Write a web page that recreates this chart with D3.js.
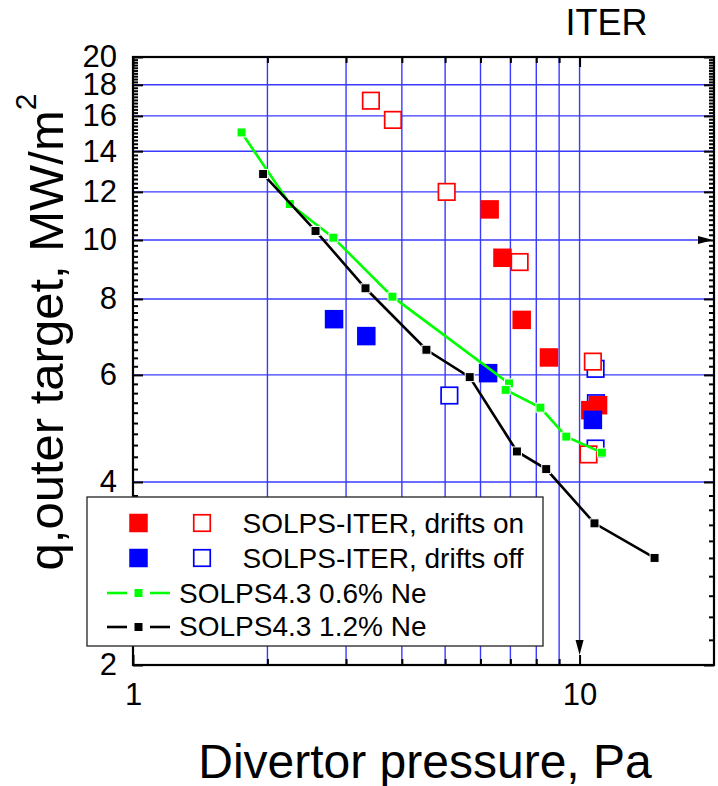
<!DOCTYPE html>
<html>
<head>
<meta charset="utf-8">
<script src="https://cdn.jsdelivr.net/npm/d3@7"></script>
<style>
  body { margin: 0; background: #fff; }
  svg { display: block; }
  text { font-family: "Liberation Sans", Arial, Helvetica, sans-serif; fill: #000; }
</style>
</head>
<body>
<svg id="chart" width="718" height="786"></svg>
<script>
// Divertor pressure (Pa) vs peak heat load at the outer target (MW/m^2)

// SOLPS-ITER, drifts on
const driftsOnFilledP = [6.29, 6.72, 7.42, 8.54, 11.0, 10.57];
const driftsOnFilledQ = [11.23, 9.35, 7.39, 6.41, 5.35, 5.25];
const driftsOnOpenP = [3.41, 3.82, 5.04, 7.34, 10.71, 10.47];
const driftsOnOpenQ = [16.95, 15.76, 12.0, 9.2, 6.31, 4.44];

// SOLPS-ITER, drifts off
const driftsOffFilledP = [2.82, 3.33, 6.24, 10.71];
const driftsOffFilledQ = [7.41, 6.95, 6.04, 5.06];
const driftsOffOpenP = [5.11, 10.86, 10.88, 10.86];
const driftsOffOpenQ = [5.55, 6.14, 5.39, 4.54];

// SOLPS4.3 scans
const ne06P = [1.75, 2.245, 2.81, 3.81, 6.95, 6.83, 8.17, 9.34, 11.22];
const ne06Q = [15.03, 11.46, 10.09, 8.07, 5.81, 5.67, 5.30, 4.75, 4.47];
const ne12P = [1.956, 2.563, 3.316, 4.54, 5.675, 7.24, 8.42, 10.80, 14.72];
const ne12Q = [12.84, 10.35, 8.33, 6.60, 5.95, 4.49, 4.20, 3.42, 3.00];

// Axis ticks and text
const xDomain = [1, 20];
const yDomain = [2, 20];
const xMajorTicks = [1, 10];
const xMinorTicks = [2, 3, 4, 5, 6, 7, 8, 9];
const yMajorTicks = [2, 4, 6, 8, 10, 12, 14, 16, 18, 20];
const yGridTicks = [4, 6, 8, 12, 14, 16, 18];
const iterPressure = 10;
const iterHeatLoad = 10;
const legendLabels = ["SOLPS-ITER, drifts on", "SOLPS-ITER, drifts off", "SOLPS4.3 0.6% Ne", "SOLPS4.3 1.2% Ne"];

const zip = (a, b) => a.map((v, i) => [v, b[i]]);

const RED = "#ff0000", BLUE = "#0000ff", GREEN = "#00ff00", GRID = "#3a3aff";

const svg = d3.select("#chart");
const pL = 133, pR = 714, pT = 57, pB = 665;

const x = d3.scaleLog().domain(xDomain).range([pL, pR]);
const y = d3.scaleLog().domain(yDomain).range([pB, pT]);

// ---- grid ----
const grid = svg.append("g");
grid.selectAll("line.h").data(yGridTicks).join("line")
  .attr("x1", pL).attr("x2", pR)
  .attr("y1", d => y(d)).attr("y2", d => y(d))
  .attr("stroke", GRID).attr("stroke-width", 1.4);
grid.selectAll("line.v").data(xMinorTicks).join("line")
  .attr("x1", d => x(d)).attr("x2", d => x(d))
  .attr("y1", pT).attr("y2", pB)
  .attr("stroke", GRID).attr("stroke-width", 1.4);

// ITER reference lines with arrowheads
const xi = x(iterPressure), yi = y(iterHeatLoad);
grid.append("line").attr("x1", xi).attr("x2", xi).attr("y1", pT).attr("y2", pB - 24)
  .attr("stroke", GRID).attr("stroke-width", 1.4);
grid.append("path")
  .attr("d", `M${xi - 4},${pB - 25} L${xi + 4},${pB - 25} L${xi},${pB - 10} Z`)
  .attr("fill", "#000");
grid.append("line").attr("x1", pL).attr("x2", pR - 15).attr("y1", yi).attr("y2", yi)
  .attr("stroke", GRID).attr("stroke-width", 1.4);
grid.append("path")
  .attr("d", `M${pR - 16},${yi - 4} L${pR - 16},${yi + 4} L${pR - 1},${yi} Z`)
  .attr("fill", "#000");

// ---- scatter squares ----
const marks = svg.append("g");
function squares(data, size, fill, stroke, sw) {
  marks.append("g").selectAll("rect").data(data).join("rect")
    .attr("x", d => x(d[0]) - size / 2)
    .attr("y", d => y(d[1]) - size / 2)
    .attr("width", size).attr("height", size)
    .attr("fill", fill).attr("stroke", stroke).attr("stroke-width", sw);
}
squares(zip(driftsOffOpenP, driftsOffOpenQ), 16.5, "#fff", BLUE, 1.7);
squares(zip(driftsOnOpenP, driftsOnOpenQ), 16.5, "#fff", RED, 1.7);
squares(zip(driftsOnFilledP, driftsOnFilledQ), 18.5, RED, "none", 0);
squares(zip(driftsOffFilledP, driftsOffFilledQ), 18.5, BLUE, "none", 0);

// ---- SOLPS4.3 lines ----
const line = d3.line().x(d => x(d[0])).y(d => y(d[1]));
function series(data, color) {
  const g = svg.append("g");
  g.append("path").datum(data).attr("d", line)
    .attr("fill", "none").attr("stroke", color).attr("stroke-width", 2.6);
  g.selectAll("rect").data(data).join("rect")
    .attr("x", d => x(d[0]) - 4.5).attr("y", d => y(d[1]) - 4.5)
    .attr("width", 9).attr("height", 9)
    .attr("fill", color).attr("stroke", "#fff").attr("stroke-width", 1);
}
series(zip(ne06P, ne06Q), GREEN);
series(zip(ne12P, ne12Q), "#000");

// ---- frame and axes ----
const fontTick = 31;
svg.append("rect").attr("x", pL).attr("y", pT)
  .attr("width", pR - pL).attr("height", pB - pT)
  .attr("fill", "none").attr("stroke", "#000").attr("stroke-width", 2.2);

const yMinorTicks = d3.range(2, 20.001, 0.2).map(v => +v.toFixed(1))
  .filter(v => Math.abs(v / 2 - Math.round(v / 2)) > 1e-6);

function styleAxis(g) {
  g.select(".domain").remove();
  g.selectAll(".tick line").attr("stroke", "#000").attr("stroke-width", 2);
  g.selectAll("text").attr("font-size", fontTick).attr("fill", "#000")
    .attr("font-family", '"Liberation Sans", Arial, sans-serif');
}

svg.append("g").attr("transform", `translate(${pL},0)`)
  .call(d3.axisLeft(y).tickValues(yMajorTicks).tickFormat(d3.format("d")).tickSize(-10).tickPadding(16))
  .call(styleAxis);
svg.append("g").attr("transform", `translate(${pL},0)`)
  .call(d3.axisLeft(y).tickValues(yMinorTicks).tickFormat("").tickSize(-5))
  .call(styleAxis);
svg.append("g").attr("transform", `translate(${pR},0)`)
  .call(d3.axisRight(y).tickValues(yMajorTicks).tickFormat("").tickSize(-10))
  .call(styleAxis);
svg.append("g").attr("transform", `translate(${pR},0)`)
  .call(d3.axisRight(y).tickValues(yMinorTicks).tickFormat("").tickSize(-5))
  .call(styleAxis);

svg.append("g").attr("transform", `translate(0,${pB})`)
  .call(d3.axisBottom(x).tickValues(xMajorTicks).tickFormat(d3.format("d")).tickSize(-10).tickPadding(18))
  .call(styleAxis);
svg.append("g").attr("transform", `translate(0,${pB})`)
  .call(d3.axisBottom(x).tickValues(xMinorTicks).tickFormat("").tickSize(-6))
  .call(styleAxis);
svg.append("g").attr("transform", `translate(0,${pT})`)
  .call(d3.axisTop(x).tickValues(xMajorTicks).tickFormat("").tickSize(-10))
  .call(styleAxis);
svg.append("g").attr("transform", `translate(0,${pT})`)
  .call(d3.axisTop(x).tickValues(xMinorTicks).tickFormat("").tickSize(-6))
  .call(styleAxis);

// ---- legend ----
const lg = svg.append("g");
lg.append("rect").attr("x", 87).attr("y", 497).attr("width", 456).attr("height", 149)
  .attr("fill", "#fff").attr("stroke", "#222").attr("stroke-width", 1.3);
const rowY = [523, 558, 593, 627];
const legendSquares = [
  { row: 0, cx: 138.5, fill: RED, stroke: "none" },
  { row: 0, cx: 202, fill: "#fff", stroke: RED },
  { row: 1, cx: 138.5, fill: BLUE, stroke: "none" },
  { row: 1, cx: 202, fill: "#fff", stroke: BLUE }
];
lg.selectAll("rect.sq").data(legendSquares).join("rect")
  .attr("x", d => d.cx - (d.stroke === "none" ? 9.25 : 8.25))
  .attr("y", d => rowY[d.row] - (d.stroke === "none" ? 9.25 : 8.25))
  .attr("width", d => d.stroke === "none" ? 18.5 : 16.5)
  .attr("height", d => d.stroke === "none" ? 18.5 : 16.5)
  .attr("fill", d => d.fill).attr("stroke", d => d.stroke).attr("stroke-width", 1.7);
[[2, GREEN], [3, "#000"]].forEach(([r, c]) => {
  const yy = rowY[r];
  lg.append("line").attr("x1", 107).attr("x2", 127).attr("y1", yy).attr("y2", yy)
    .attr("stroke", c).attr("stroke-width", 2.6);
  lg.append("line").attr("x1", 150).attr("x2", 170).attr("y1", yy).attr("y2", yy)
    .attr("stroke", c).attr("stroke-width", 2.6);
  lg.append("rect").attr("x", 134.5).attr("y", yy - 4).attr("width", 8).attr("height", 8)
    .attr("fill", c);
});
const textX = [242.5, 242.5, 179, 179];
const textBase = [533, 568, 603, 636];
lg.selectAll("text").data(legendLabels).join("text")
  .attr("x", (d, i) => textX[i]).attr("y", (d, i) => textBase[i])
  .attr("font-size", 28).text(d => d);

// ---- titles ----
svg.append("text").attr("x", 425).attr("y", 778).attr("text-anchor", "middle")
  .attr("font-size", 48).text("Divertor pressure, Pa");

const yl = svg.append("text").attr("transform", "rotate(-90)")
  .attr("x", -332).attr("y", 63).attr("text-anchor", "middle").attr("font-size", 49);
yl.append("tspan").text("q,outer target, MW/m");
yl.append("tspan").attr("font-size", 30).attr("dy", -27).text("2");

svg.append("text").attr("x", 606.5).attr("y", 35).attr("text-anchor", "middle")
  .attr("font-size", 36).text("ITER");
</script>
</body>
</html>
